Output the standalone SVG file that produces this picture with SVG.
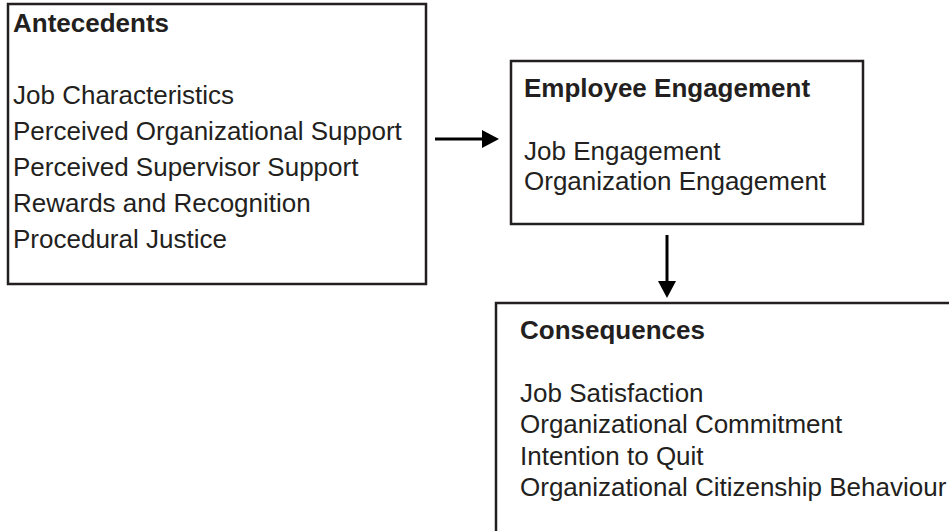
<svg xmlns="http://www.w3.org/2000/svg" width="949" height="531" viewBox="0 0 949 531">
<style>
.box{fill:#fff;stroke:#231f20;stroke-width:2.5}
.t{font-family:"Liberation Sans",Arial,sans-serif;font-size:26px;fill:#231f20}
.b{font-weight:bold}
.c{stroke:#000;stroke-width:3;fill:none}
</style>
<defs>
<marker id="ah" markerUnits="userSpaceOnUse" markerWidth="18" markerHeight="18" viewBox="0 0 18 18" refX="0" refY="9" orient="auto">
<path d="M0,0 L17,9 L0,18 Z" fill="#000"/>
</marker>
</defs>
<rect width="949" height="531" fill="#fff"/>
<g id="antecedents">
<rect class="box" x="8" y="4" width="418" height="280"/>
<text class="t b" x="13" y="32">Antecedents</text>
<text class="t" x="13" y="104">Job Characteristics</text>
<text class="t" x="13" y="140">Perceived Organizational Support</text>
<text class="t" x="13" y="176">Perceived Supervisor Support</text>
<text class="t" x="13" y="212">Rewards and Recognition</text>
<text class="t" x="13" y="248">Procedural Justice</text>
</g>
<g id="engagement">
<rect class="box" x="511" y="61" width="352" height="163"/>
<text class="t b" x="524" y="97">Employee Engagement</text>
<text class="t" x="524" y="160">Job Engagement</text>
<text class="t" x="524" y="190">Organization Engagement</text>
</g>
<g id="consequences">
<rect class="box" x="496" y="303" width="470" height="250"/>
<text class="t b" x="520" y="339">Consequences</text>
<text class="t" x="520" y="402">Job Satisfaction</text>
<text class="t" x="520" y="433">Organizational Commitment</text>
<text class="t" x="520" y="465">Intention to Quit</text>
<text class="t" x="520" y="496">Organizational Citizenship Behaviour</text>
</g>
<g id="connectors">
<line class="c" x1="435" y1="139" x2="482" y2="139" marker-end="url(#ah)"/>
<line class="c" x1="667" y1="235" x2="667" y2="281" marker-end="url(#ah)"/>
</g>
</svg>
